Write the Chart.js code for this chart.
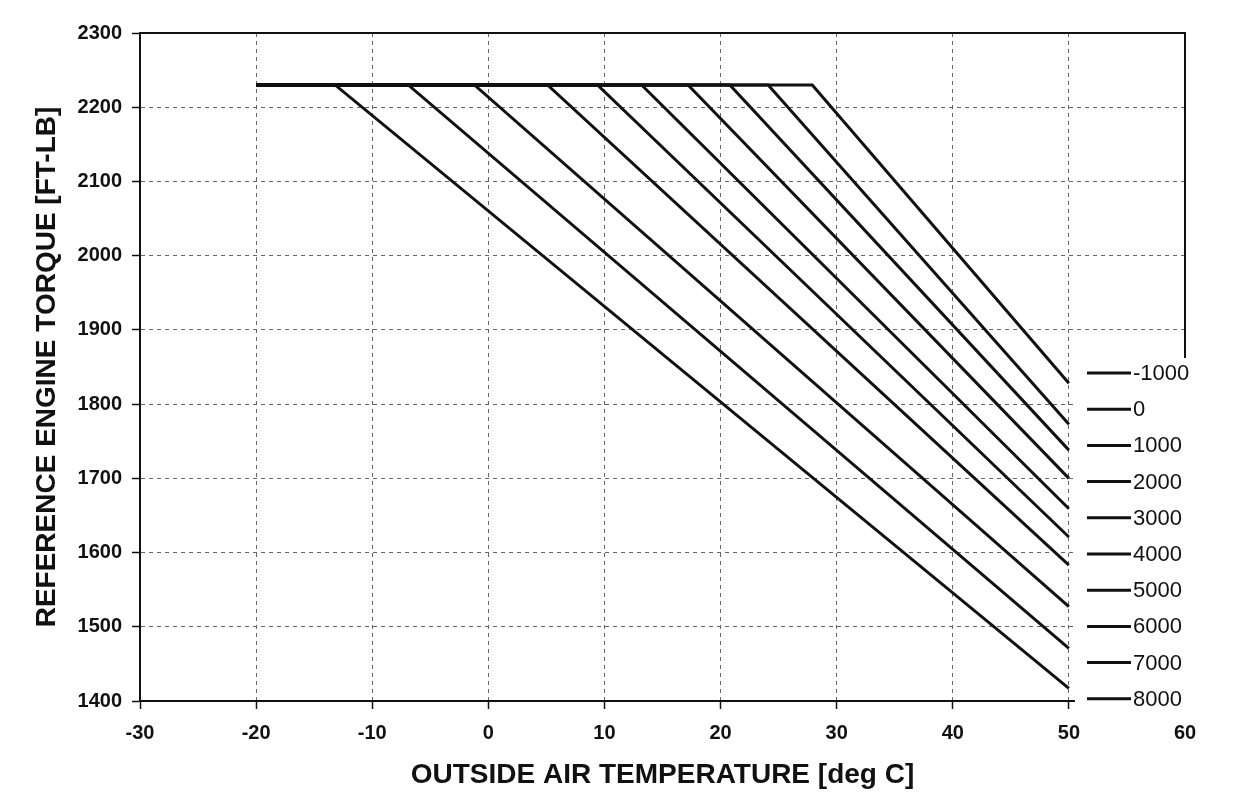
<!DOCTYPE html>
<html>
<head>
<meta charset="utf-8">
<script src="https://cdn.jsdelivr.net/npm/chart.js@4"></script>
<style>
  body { margin: 0; background: #fff; }
  #wrap { width: 1243px; height: 800px; }
</style>
</head>
<body>
<div id="wrap"><canvas id="chart-torque"></canvas></div>
<script>
// pressure altitudes (legend), one curve each
const altitudes = ['-1000', '0', '1000', '2000', '3000', '4000', '5000', '6000', '7000', '8000'];
// temperature where each curve leaves the flat 2230 limit
const kneeTemps = [27.9, 24.1, 20.8, 17.2, 13.2, 9.4, 5.1, -1.2, -6.9, -13.2];
// torque read at 50 deg C
const endTorques = [1828, 1773, 1738, 1700, 1659, 1621, 1583, 1527, 1471, 1417];
const startTemp = -20;
const endTemp = 50;
const flatTorque = 2230;

const xTicks = [-30, -20, -10, 0, 10, 20, 30, 40, 50, 60];
const yTicks = [1400, 1500, 1600, 1700, 1800, 1900, 2000, 2100, 2200, 2300];

const ctxTorque = document.getElementById('chart-torque');

const fontFamily = "'Liberation Sans', Arial, sans-serif";

// solid plot frame all round
const frame = {
  id: 'frame',
  afterDatasetsDraw(chart) {
    const { ctx, chartArea: { top, bottom, left, right } } = chart;
    ctx.save();
    ctx.strokeStyle = '#111';
    ctx.lineWidth = 2;
    ctx.setLineDash([]);
    ctx.strokeRect(left, top, right - left, bottom - top);
    ctx.restore();
  }
};

// legend box sitting over the lower right corner
const sideLegend = {
  id: 'sideLegend',
  afterDraw(chart) {
    const { ctx } = chart;
    const x0 = 1075, y0 = 358;
    ctx.save();
    ctx.fillStyle = '#fff';
    ctx.fillRect(x0, y0, chart.width - x0, 356);
    ctx.font = `22px ${fontFamily}`;
    ctx.fillStyle = '#111';
    ctx.textAlign = 'left';
    ctx.textBaseline = 'middle';
    chart.data.datasets.forEach((ds, i) => {
      const y = 373 + i * 36.2;
      ctx.beginPath();
      ctx.strokeStyle = ds.borderColor;
      ctx.lineWidth = 3;
      ctx.moveTo(1087, y);
      ctx.lineTo(1131, y);
      ctx.stroke();
      ctx.fillText(ds.label, 1133, y + 1);
    });
    ctx.restore();
  }
};

const datasets = altitudes.map((alt, i) => ({
  label: alt,
  data: [
    { x: startTemp, y: flatTorque },
    { x: kneeTemps[i], y: flatTorque },
    { x: endTemp, y: endTorques[i] }
  ],
  borderColor: '#111',
  backgroundColor: '#111',
  borderWidth: 3,
  pointRadius: 0,
  tension: 0
}));

new Chart(ctxTorque, {
  type: 'line',
  data: { datasets },
  options: {
    responsive: true,
    maintainAspectRatio: false,
    animation: false,
    layout: {
      padding: { top: 33, right: 58, bottom: 0, left: 0 }
    },
    plugins: {
      legend: { display: false },
      tooltip: { enabled: false }
    },
    scales: {
      x: {
        type: 'linear',
        min: xTicks[0],
        max: xTicks[xTicks.length - 1],
        afterBuildTicks(scale) { scale.ticks = xTicks.map(v => ({ value: v })); },
        afterFit(scale) { scale.height = 99; },
        grid: { color: '#666', lineWidth: 1, tickLength: 8, tickColor: '#111', tickWidth: 1.5 },
        border: { display: true, color: '#111', width: 2, dash: [4, 4] },
        ticks: {
          color: '#111', padding: 12,
          font: { family: fontFamily, size: 20, weight: 'bold' },
          callback: v => String(v)
        },
        title: {
          display: true,
          text: 'OUTSIDE AIR TEMPERATURE [deg C]',
          color: '#111',
          padding: { top: 0, bottom: 8 },
          font: { family: fontFamily, size: 28, weight: 'bold' }
        }
      },
      y: {
        type: 'linear',
        min: yTicks[0],
        max: yTicks[yTicks.length - 1],
        afterBuildTicks(scale) { scale.ticks = yTicks.map(v => ({ value: v })); },
        afterFit(scale) { scale.width = 140; },
        grid: { color: '#666', lineWidth: 1, tickLength: 8, tickColor: '#111', tickWidth: 1.5 },
        border: { display: true, color: '#111', width: 2, dash: [4, 4] },
        ticks: {
          color: '#111', padding: 10,
          font: { family: fontFamily, size: 20, weight: 'bold' },
          callback: v => String(v)
        },
        title: {
          display: true,
          text: 'REFERENCE ENGINE TORQUE [FT-LB]',
          color: '#111',
          padding: { top: 30, bottom: 0 },
          font: { family: fontFamily, size: 28, weight: 'bold' }
        }
      }
    }
  },
  plugins: [frame, sideLegend]
});
</script>
</body>
</html>
